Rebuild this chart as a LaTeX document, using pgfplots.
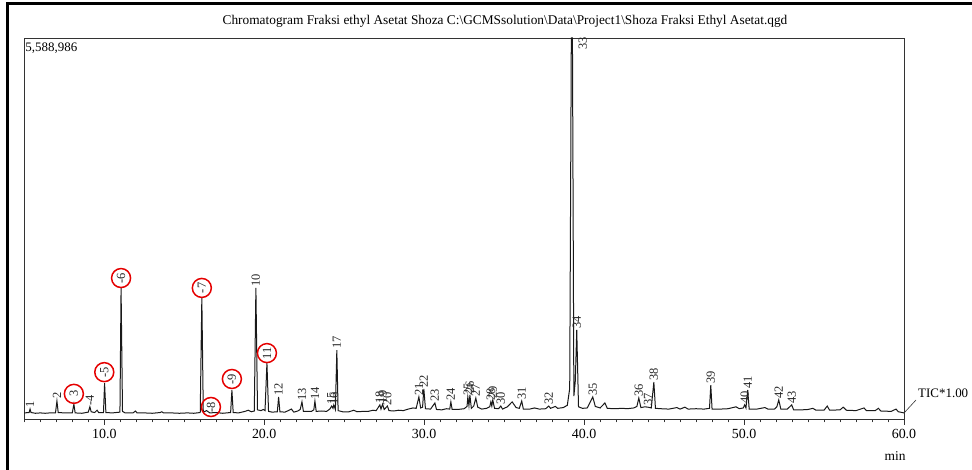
\documentclass[border=0pt]{standalone}
\usepackage{fontspec}
\setmainfont{Liberation Serif}
\usepackage{pgfplots}
\pgfplotsset{compat=1.18}

\tikzset{
  pk/.style={rotate=90,anchor=west,inner sep=0pt,font=\fontsize{12.5}{12.5}\selectfont,text=black!85},
  pkc/.style={rotate=90,circle,draw=red!90!black,line width=1.5bp,minimum size=19bp,inner sep=0pt,
    font=\fontsize{12.5}{12.5}\selectfont,text=black!85}
}

\begin{document}
\begin{tikzpicture}
\begin{axis}[
  at={(0,0)}, anchor=south west,
  scale only axis, width=879.7bp, height=381bp,
  xmin=5, xmax=60, ymin=0, ymax=100,
  clip=false,
  axis line style={black!80, line width=0.8bp},
  xtick={10,20,30,40,50,60},
  minor xtick={5,6,...,60},
  ytick=\empty,
  xtick pos=bottom, tick align=outside,
  major tick length=6bp, minor tick length=3.5bp,
  tick style={black!80, line width=0.7bp},
  x tick label style={font=\fontsize{14}{14}\selectfont, yshift=-1bp},
  /pgf/number format/assume math mode=true,
  xticklabel style={/pgf/number format/.cd, fixed, fixed zerofill, precision=1},
]
\addplot[black!90, line width=1bp] coordinates {
(5.0,1.6)(5.3,1.7)(5.36,2.6)(5.42,1.7)(5.7,1.5)(6.0,1.6)(6.3,1.5)(6.6,1.6)(6.95,1.6)
(7.04,4.7)(7.12,1.7)(7.5,1.6)(8.0,1.6)(8.1,3.9)(8.18,1.6)(8.6,1.5)(9.0,1.8)(9.1,3.2)
(9.18,1.9)(9.4,1.7)(9.55,2.3)(9.65,1.7)(9.95,1.7)(10.02,9.4)(10.1,1.7)(10.5,1.6)
(10.98,1.8)(11.05,34.4)(11.14,2.0)(11.3,1.6)(11.8,1.6)(11.95,2.1)(12.05,1.6)(12.5,1.6)
(13.0,1.5)(13.5,1.7)(13.6,1.9)(13.7,1.6)(14.2,1.6)(14.7,1.5)(15.2,1.6)(15.6,1.5)
(16.0,1.7)(16.1,31.8)(16.19,1.8)(16.4,2.2)(16.6,1.6)(17.0,1.7)(17.4,1.5)(17.9,1.7)
(17.98,7.6)(18.06,1.7)(18.4,1.6)(18.8,2.0)(19.0,2.3)(19.2,1.9)(19.38,2.1)(19.48,34.4)
(19.58,2.4)(19.8,2.2)(19.95,2.5)(20.05,2.2)(20.17,14.7)(20.27,2.0)(20.5,1.8)(20.82,1.9)
(20.9,5.8)(20.98,1.9)(21.3,1.8)(21.7,2.6)(21.85,1.8)(22.1,2.1)(22.25,2.5)(22.36,4.5)
(22.45,2.0)(22.7,2.0)(22.95,2.0)(23.1,2.4)(23.17,4.7)(23.25,2.0)(23.6,2.1)(23.9,2.0)
(24.1,2.6)(24.22,3.4)(24.3,2.8)(24.35,3.7)(24.45,2.5)(24.54,18.1)(24.62,2.2)(24.9,1.9)
(25.3,1.9)(25.6,2.3)(25.8,1.9)(26.2,2.0)(26.5,2.0)(26.8,2.3)(27.0,2.2)(27.23,3.7)
(27.3,2.6)(27.4,3.9)(27.5,2.5)(27.7,3.4)(27.8,2.2)(28.1,2.1)(28.4,2.3)(28.7,2.2)
(29.0,2.6)(29.3,2.9)(29.5,2.8)(29.67,5.8)(29.78,2.9)(29.9,3.1)(29.98,7.9)(30.08,2.7)
(30.4,2.6)(30.67,4.2)(30.77,2.5)(31.1,2.4)(31.4,2.7)(31.6,2.6)(31.67,4.5)(31.75,2.5)
(32.1,2.5)(32.5,2.7)(32.68,3.3)(32.73,5.8)(32.8,3.5)(32.86,6.3)(32.95,2.8)(33.1,3.4)
(33.23,5.5)(33.35,3.1)(33.6,2.6)(33.9,2.8)(34.1,3.2)(34.17,4.5)(34.23,3.4)(34.29,5.0)
(34.4,2.8)(34.65,2.7)(34.79,3.4)(34.9,2.6)(35.2,3.2)(35.5,4.5)(35.75,3.0)(35.95,2.8)
(36.1,4.7)(36.2,2.6)(36.6,2.6)(36.9,2.9)(37.2,2.6)(37.6,2.7)(37.79,3.4)(37.9,2.8)
(38.2,3.3)(38.35,2.8)(38.7,3.0)(38.95,3.6)(39.1,8.0)(39.2,100)(39.27,100)(39.36,6.0)
(39.45,10.0)(39.54,23.4)(39.65,3.2)(39.9,2.8)(40.2,2.9)(40.54,5.8)(40.7,3.3)(41.0,2.9)
(41.3,4.2)(41.45,2.8)(41.9,2.7)(42.4,2.8)(42.7,2.7)(43.1,2.9)(43.3,3.3)(43.42,5.5)
(43.55,3.0)(43.8,3.2)(44.0,3.1)(44.2,2.9)(44.36,9.7)(44.46,2.8)(44.8,2.7)(45.3,2.6)
(45.8,3.0)(46.0,2.6)(46.3,3.1)(46.5,2.6)(47.0,2.7)(47.5,2.6)(47.84,2.8)(47.92,8.9)
(48.0,2.6)(48.5,2.6)(49.0,2.7)(49.5,3.2)(49.7,2.7)(49.95,2.9)(50.04,3.7)(50.12,2.9)
(50.23,7.6)(50.32,2.6)(50.8,2.6)(51.3,3.0)(51.5,2.6)(51.9,2.6)(52.05,3.2)(52.17,5.0)
(52.3,2.6)(52.7,2.6)(52.98,3.7)(53.1,2.4)(53.6,2.4)(54.0,2.5)(54.3,2.8)(54.5,2.3)
(55.0,2.3)(55.2,3.4)(55.35,2.3)(56.0,2.4)(56.2,3.1)(56.4,2.3)(57.0,2.2)(57.5,2.9)
(57.65,2.2)(58.2,2.2)(58.4,2.8)(58.55,2.1)(59.2,2.0)(59.5,2.6)(59.65,1.9)(60.0,1.6)
};
% peak labels
\node[pk] at (axis cs:5.36,2.9) {1};
\node[pk] at (axis cs:7.04,5.3) {2};
\node[pkc] at (axis cs:8.1,6.6) {3};
\node[pk] at (axis cs:9.1,3.4) {-4};
\node[pkc] at (axis cs:10.0,12.3) {-5};
\node[pkc] at (axis cs:11.05,37.0) {-6};
\node[pkc] at (axis cs:16.1,34.4) {-7};
\node[pkc] at (axis cs:16.67,3.15) {-8};
\node[pkc] at (axis cs:17.98,10.5) {-9};
\node[pk] at (axis cs:19.48,34.7) {10};
\node[pkc] at (axis cs:20.17,17.3) {11};
\node[pk] at (axis cs:20.9,6.1) {12};
\node[pk] at (axis cs:22.36,4.8) {13};
\node[pk] at (axis cs:23.17,5.0) {14};
\node[pk] at (axis cs:24.2,3.8) {15};
\node[pk] at (axis cs:24.35,3.8) {16};
\node[pk] at (axis cs:24.54,18.4) {17};
\node[pk] at (axis cs:27.23,3.9) {18};
\node[pk] at (axis cs:27.4,4.1) {19};
\node[pk] at (axis cs:27.7,3.6) {20};
\node[pk] at (axis cs:29.67,6.1) {21};
\node[pk] at (axis cs:29.98,8.2) {22};
\node[pk] at (axis cs:30.67,4.5) {23};
\node[pk] at (axis cs:31.67,4.8) {24};
\node[pk] at (axis cs:32.73,6.1) {25};
\node[pk] at (axis cs:32.86,6.6) {26};
\node[pk] at (axis cs:33.23,5.8) {27};
\node[pk] at (axis cs:34.17,4.8) {28};
\node[pk] at (axis cs:34.29,5.3) {29};
\node[pk] at (axis cs:34.79,3.7) {30};
\node[pk] at (axis cs:36.1,5.0) {31};
\node[pk] at (axis cs:37.79,3.7) {32};
\node[pk] at (axis cs:39.92,96.8) {33};
\node[pk] at (axis cs:39.54,23.7) {34};
\node[pk] at (axis cs:40.54,6.1) {35};
\node[pk] at (axis cs:43.42,5.8) {36};
\node[pk] at (axis cs:44.0,3.4) {37};
\node[pk] at (axis cs:44.36,10.0) {38};
\node[pk] at (axis cs:47.92,9.2) {39};
\node[pk] at (axis cs:50.04,3.9) {40};
\node[pk] at (axis cs:50.23,7.9) {41};
\node[pk] at (axis cs:52.17,5.3) {42};
\node[pk] at (axis cs:52.98,3.9) {43};
\end{axis}
% text and frame around the axis (bp, axis south west at origin)
\node[font=\fontsize{13.4}{13.4}\selectfont] at (480.7bp,398bp) {Chromatogram Fraksi ethyl Asetat Shoza C:\textbackslash GCMSsolution\textbackslash Data\textbackslash Project1\textbackslash Shoza Fraksi Ethyl Asetat.qgd};
\node[font=\fontsize{13}{13}\selectfont,anchor=base west,inner sep=0pt] at (1bp,367bp) {5,588,986};
\node[font=\fontsize{13}{13}\selectfont,anchor=west,inner sep=0pt] at (893.7bp,26bp) {TIC*1.00};
\draw[black!80,line width=0.6bp] (879.7bp,6bp) -- (891.7bp,19bp);
\node[font=\fontsize{13.5}{13.5}\selectfont] at (870.7bp,-37bp) {min};
\draw[black,line width=3bp] (-16.3bp,-51bp) -- (-16.3bp,415bp) -- (947.7bp,415bp);
\pgfresetboundingbox
\useasboundingbox (-24.3bp,-51bp) rectangle (947.7bp,419bp);
\end{tikzpicture}
\end{document}
